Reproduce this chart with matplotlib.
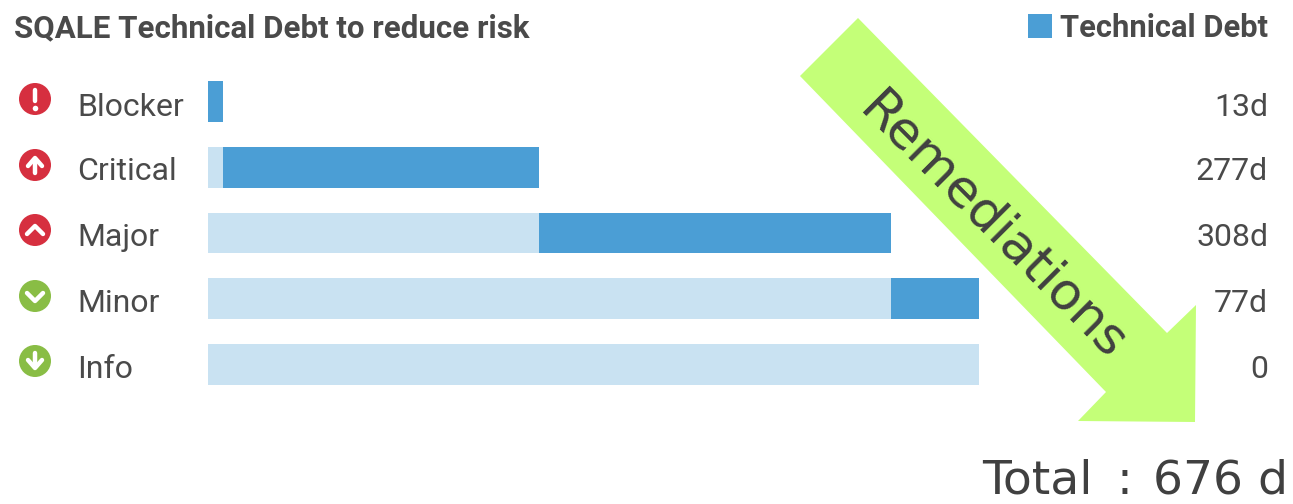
import matplotlib
matplotlib.use("Agg")
import matplotlib.pyplot as plt
from matplotlib.patches import Circle, Polygon, Rectangle

categories = ["Blocker", "Critical", "Major", "Minor", "Info"]
debt_days = [13, 277, 308, 77, 0]
debt_labels = ["13d", "277d", "308d", "77d", "0"]
total_days = 676
icon_kinds = ["bang", "arrow_up", "chevron_up", "chevron_down", "arrow_down"]
icon_colors = ["#d62f3f", "#d62f3f", "#d62f3f", "#89bd45", "#89bd45"]

BLUE = "#4b9ed5"
PALE = "#c9e2f2"
TEXT = "#4a4a4a"
ARROW = "#c4ff78"
W, H = 1293, 504


def draw_icon(ax, x, y, kind, color):
    ax.add_patch(Circle((x, y), 16, color=color, lw=0))
    lw = 3.2
    white = dict(color="white", lw=lw, solid_capstyle="round", solid_joinstyle="round")
    if kind == "bang":
        ax.plot([x, x], [y - 9, y + 2], **white)
        ax.plot([x], [y + 8.5], "o", color="white", ms=4, mew=0)
    elif kind == "arrow_up":
        ax.plot([x, x], [y + 8, y - 6], **white)
        ax.plot([x - 7, x, x + 7], [y + 1, y - 7, y + 1], **white)
    elif kind == "arrow_down":
        ax.plot([x, x], [y - 8, y + 6], **white)
        ax.plot([x - 7, x, x + 7], [y - 1, y + 7, y - 1], **white)
    elif kind == "chevron_up":
        ax.plot([x - 8, x, x + 8], [y + 4, y - 4, y + 4], **white)
    elif kind == "chevron_down":
        ax.plot([x - 8, x, x + 8], [y - 3, y + 5, y - 3], **white)


def main():
    plt.rcParams["font.family"] = ["Roboto", "DejaVu Sans"]
    fig = plt.figure(figsize=(W / 100, H / 100), dpi=100)

    # stacked bars: pale part is the debt of the rows above, blue is the row's own
    offsets = [sum(debt_days[:i]) for i in range(len(debt_days))]
    bars = fig.add_axes([208 / W, 1 - 397.5 / H, 772 / W, 329 / H])
    rows = range(len(categories))
    bars.barh(rows, offsets, height=0.62, color=PALE)
    bars.barh(rows, debt_days, left=offsets, height=0.62, color=BLUE)
    bars.set_xlim(0, total_days)
    bars.set_ylim(len(categories) - 0.5, -0.5)
    bars.axis("off")

    # pixel-space overlay for labels, icons and the arrow
    ax = fig.add_axes([0, 0, 1, 1])
    ax.set_xlim(0, W)
    ax.set_ylim(H, 0)
    ax.axis("off")
    ax.patch.set_alpha(0)

    ax.text(14, 28, "SQALE Technical Debt to reduce risk", fontsize=22.5, fontweight="bold",
            color=TEXT, va="center", ha="left")
    ax.add_patch(Rectangle((1028, 14), 24, 24, color=BLUE, lw=0))
    ax.text(1268, 28, "Technical Debt", fontsize=22.2, fontweight="bold",
            color=TEXT, va="center", ha="right")

    icon_y = [99, 165, 230, 296, 361]
    label_y = [107, 172, 238, 303, 369]
    for i, name in enumerate(categories):
        draw_icon(ax, 35, icon_y[i], icon_kinds[i], icon_colors[i])
        ax.text(77, label_y[i], name, fontsize=23, color=TEXT, va="center", ha="left")
        ax.text(1268, label_y[i], debt_labels[i], fontsize=23, color=TEXT, va="center", ha="right")

    arrow = [(858, 18), (1167, 333), (1196, 305), (1195, 422), (1078, 421), (1106, 392), (800, 76)]
    ax.add_patch(Polygon(arrow, closed=True, color=ARROW, lw=0))
    ax.text(992, 227, "Remediations", fontsize=37.5, color="#404040", rotation=-45,
            rotation_mode="anchor", ha="center", va="center", family="DejaVu Sans")

    # total line, colon set apart with wide gaps on both sides
    total_style = dict(fontsize=34, color="#404040", va="baseline", family="DejaVu Sans")
    ax.text(982, 494, "Total", ha="left", **total_style)
    ax.text(1124, 494, ":", ha="center", **total_style)
    ax.text(1288, 494, str(total_days) + " d", ha="right", **total_style)

    fig.savefig("out.png", dpi=100)


if __name__ == "__main__":
    main()
